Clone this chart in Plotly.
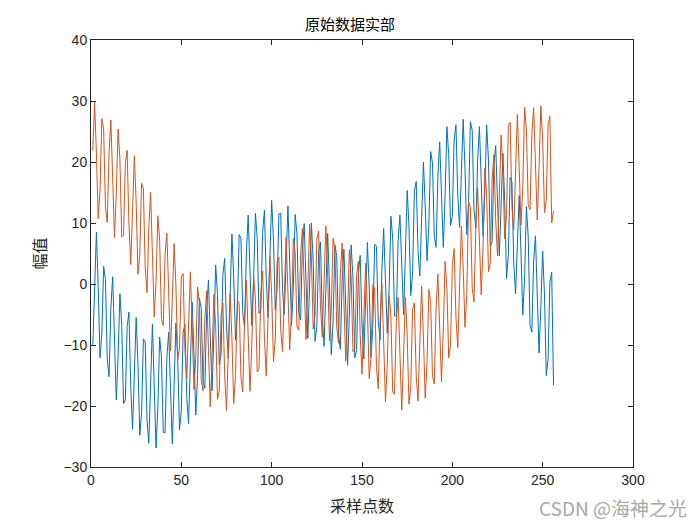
import plotly.graph_objects as go

samples = list(range(1, 257))

series_blue = [
    -10.1, 0.4, 8.5, -0.6, -12.1, -8.1, 2.9, 0.7, -12.3, -15.2,
    -3.9, 1.2, -9.6, -19.0, -11.9, -1.6, -6.7, -19.6, -19.0, -7.0,
    -4.6, -16.9, -23.8, -14.2, -5.5, -13.2, -24.8, -21.1, -9.0, -9.5,
    -22.3, -26.1, -14.0, -6.6, -16.7, -26.9, -20.2, -8.7, -12.0, -24.3,
    -24.4, -12.0, -7.9, -19.0, -26.2, -16.7, -6.4, -12.4, -23.9, -20.7,
    -7.9, -6.6, -18.6, -22.9, -11.3, -3.0, -11.5, -21.5, -15.0, -2.3,
    -4.0, -15.9, -17.1, -4.7, 0.6, -9.6, -17.5, -8.4, 3.1, -1.6,
    -13.2, -11.4, 1.5, 4.2, -7.1, -12.2, -1.3, 8.2, 1.1, -9.2,
    -4.4, 8.1, 7.5, -4.7, -7.1, 4.9, 11.3, 1.8, -6.8, 0.7,
    11.6, 7.6, -4.8, -4.2, 8.5, 12.1, 0.9, -5.5, 4.1, 13.7,
    7.2, -4.2, -0.8, 11.5, 11.6, -0.9, -5.0, 5.8, 12.8, 3.4,
    -6.8, -0.5, 11.4, 8.2, -4.7, -5.9, 5.8, 9.9, -1.1, -8.9,
    -0.2, 10.0, 3.4, -9.4, -7.1, 5.4, 6.9, -5.1, -10.2, 0.3,
    8.3, -0.4, -11.6, -6.1, 6.4, 4.6, -8.2, -10.7, 0.6, 5.7,
    -4.6, -13.3, -5.1, 6.4, 1.0, -12.1, -10.9, 1.7, 4.7, -6.5,
    -12.3, -2.3, 6.8, -0.7, -12.0, -6.9, 6.5, 6.2, -6.1, -9.2,
    2.4, 9.1, 0.5, -8.1, -0.9, 11.1, 7.5, -5.2, -5.3, 7.2,
    11.3, 1.2, -5.0, 4.7, 15.3, 9.5, -1.9, 1.8, 15.2, 16.8,
    5.5, 1.3, 12.2, 20.0, 12.7, 3.8, 9.7, 21.7, 19.9, 7.9,
    6.0, 17.6, 23.3, 13.4, 6.0, 14.7, 25.8, 21.2, 9.6, 11.1,
    23.6, 26.1, 14.6, 9.3, 18.9, 27.0, 19.1, 8.1, 13.5, 26.6,
    25.2, 12.3, 9.1, 20.2, 25.8, 16.4, 7.8, 15.0, 26.1, 20.3,
    6.2, 6.8, 19.5, 22.7, 11.3, 4.6, 13.0, 21.4, 13.5, 0.9,
    4.7, 17.5, 16.7, 3.4, -1.6, 8.4, 14.5, 5.1, -5.1, 1.0,
    12.7, 7.8, -6.7, -7.9, 3.8, 7.9, -3.3, -11.3, -3.7, 5.4,
    -1.7, -15.0, -12.4, 0.4, 1.9, -16.6,
]

series_orange = [
    21.9, 29.8, 21.4, 10.7, 15.4, 27.1, 25.3, 12.6, 10.1, 21.6,
    26.9, 16.5, 7.6, 14.9, 25.4, 20.4, 7.7, 8.0, 19.8, 21.9,
    9.8, 3.2, 12.5, 21.0, 13.3, 1.6, 4.9, 16.5, 15.6, 2.7,
    -1.4, 9.2, 15.0, 4.8, -5.4, 0.5, 11.2, 7.2, -5.8, -6.8,
    4.9, 8.3, -3.3, -11.0, -2.5, 6.6, -0.1, -12.4, -10.4, 1.2,
    1.7, -10.8, -15.6, -5.2, 2.0, -6.9, -17.3, -12.0, -0.5, -3.0,
    -15.7, -17.5, -5.8, -1.1, -11.9, -20.1, -12.1, -1.7, -6.8, -18.9,
    -17.5, -5.2, -3.1, -15.0, -20.7, -10.4, -1.6, -9.0, -19.6, -15.0,
    -2.6, -3.2, -15.3, -17.7, -5.8, 0.6, -8.9, -17.6, -10.1, 1.3,
    -2.4, -14.4, -13.9, -1.4, 2.1, -8.9, -15.1, -5.3, 4.5, -1.7,
    -12.7, -9.0, 3.7, 4.4, -7.4, -11.1, 0.2, 7.6, -1.2, -10.8,
    -4.4, 7.5, 5.1, -7.0, -7.6, 4.6, 9.1, -1.6, -9.1, -0.4,
    9.8, 4.3, -7.4, -5.1, 7.4, 8.7, -3.5, -8.7, 1.6, 9.5,
    1.3, -9.3, -4.4, 7.5, 5.9, -7.0, -9.7, 1.6, 6.7, -3.9,
    -12.6, -5.1, 5.6, 1.1, -11.1, -10.6, 1.4, 3.7, -8.3, -14.8,
    -5.3, 3.4, -4.1, -15.5, -11.9, -0.1, -0.8, -13.5, -17.2, -6.2,
    0.1, -9.6, -19.3, -13.0, -1.9, -5.3, -17.7, -18.1, -6.0, -2.2,
    -13.4, -20.7, -11.8, -2.1, -8.3, -19.7, -16.8, -4.2, -3.1, -15.0,
    -19.2, -8.2, -0.4, -8.8, -18.7, -12.9, -0.9, -2.9, -15.1, -16.4,
    -3.9, 1.6, -8.4, -16.0, -7.4, 3.7, -0.7, -12.1, -10.0, 3.0,
    5.8, -5.4, -10.4, 0.3, 9.5, 2.8, -7.1, -1.8, 13.5, 12.5,
    -0.7, -2.9, 9.2, 15.8, 6.5, -1.8, 6.1, 19.0, 14.7, 2.0,
    3.5, 17.2, 21.2, 10.5, 4.6, 14.5, 24.4, 18.3, 7.4, 11.2,
    26.0, 26.5, 12.5, 8.9, 20.3, 27.8, 19.1, 9.6, 16.0, 29.0,
    25.3, 13.0, 12.2, 24.4, 28.9, 18.1, 10.5, 19.1, 29.2, 23.6,
    11.7, 13.8, 26.1, 27.5, 10.0, 12.0,
]

x_ticks = [0, 50, 100, 150, 200, 250, 300]
y_ticks = [-30, -20, -10, 0, 10, 20, 30, 40]

title_text = "原始数据实部"
x_label = "采样点数"
y_label = "幅值"
watermark = "CSDN @海神之光"

axis_color = "#262626"
cjk_font = "Noto Sans CJK SC"
num_font = "Liberation Sans"

fig = go.Figure()
fig.add_trace(go.Scatter(x=samples, y=series_blue, mode="lines",
                         line=dict(color="#0072BD", width=1), showlegend=False))
fig.add_trace(go.Scatter(x=samples, y=series_orange, mode="lines",
                         line=dict(color="#D95319", width=1), showlegend=False))

axis_common = dict(
    showline=True, linecolor=axis_color, linewidth=1, mirror="ticks",
    ticks="inside", ticklen=5, tickwidth=1, tickcolor=axis_color,
    showgrid=False, zeroline=False,
    tickfont=dict(family=num_font, size=14, color=axis_color),
)

fig.update_layout(
    width=700, height=525,
    margin=dict(l=91, r=67, t=40, b=58),
    paper_bgcolor="white", plot_bgcolor="white",
    title=dict(text=title_text, x=0.5, xanchor="center", y=0.953, yanchor="middle",
               font=dict(family=cjk_font, size=15, color="#000000")),
    xaxis=dict(range=[0, 300], tickvals=x_ticks,
               title=dict(text=x_label, font=dict(family=cjk_font, size=16, color=axis_color), standoff=14),
               **axis_common),
    yaxis=dict(range=[-30, 40], tickvals=y_ticks,
               title=dict(text=y_label, font=dict(family=cjk_font, size=16, color=axis_color), standoff=12),
               **axis_common),
)
fig.add_annotation(text=watermark, xref="paper", yref="paper",
                   x=(689 - 91) / (700 - 91 - 67), y=(467 - 508) / (467 - 40),
                   xanchor="right", yanchor="middle", showarrow=False,
                   font=dict(family=cjk_font, size=19, color="#a8a8a8"))

fig.write_html("out.html")
